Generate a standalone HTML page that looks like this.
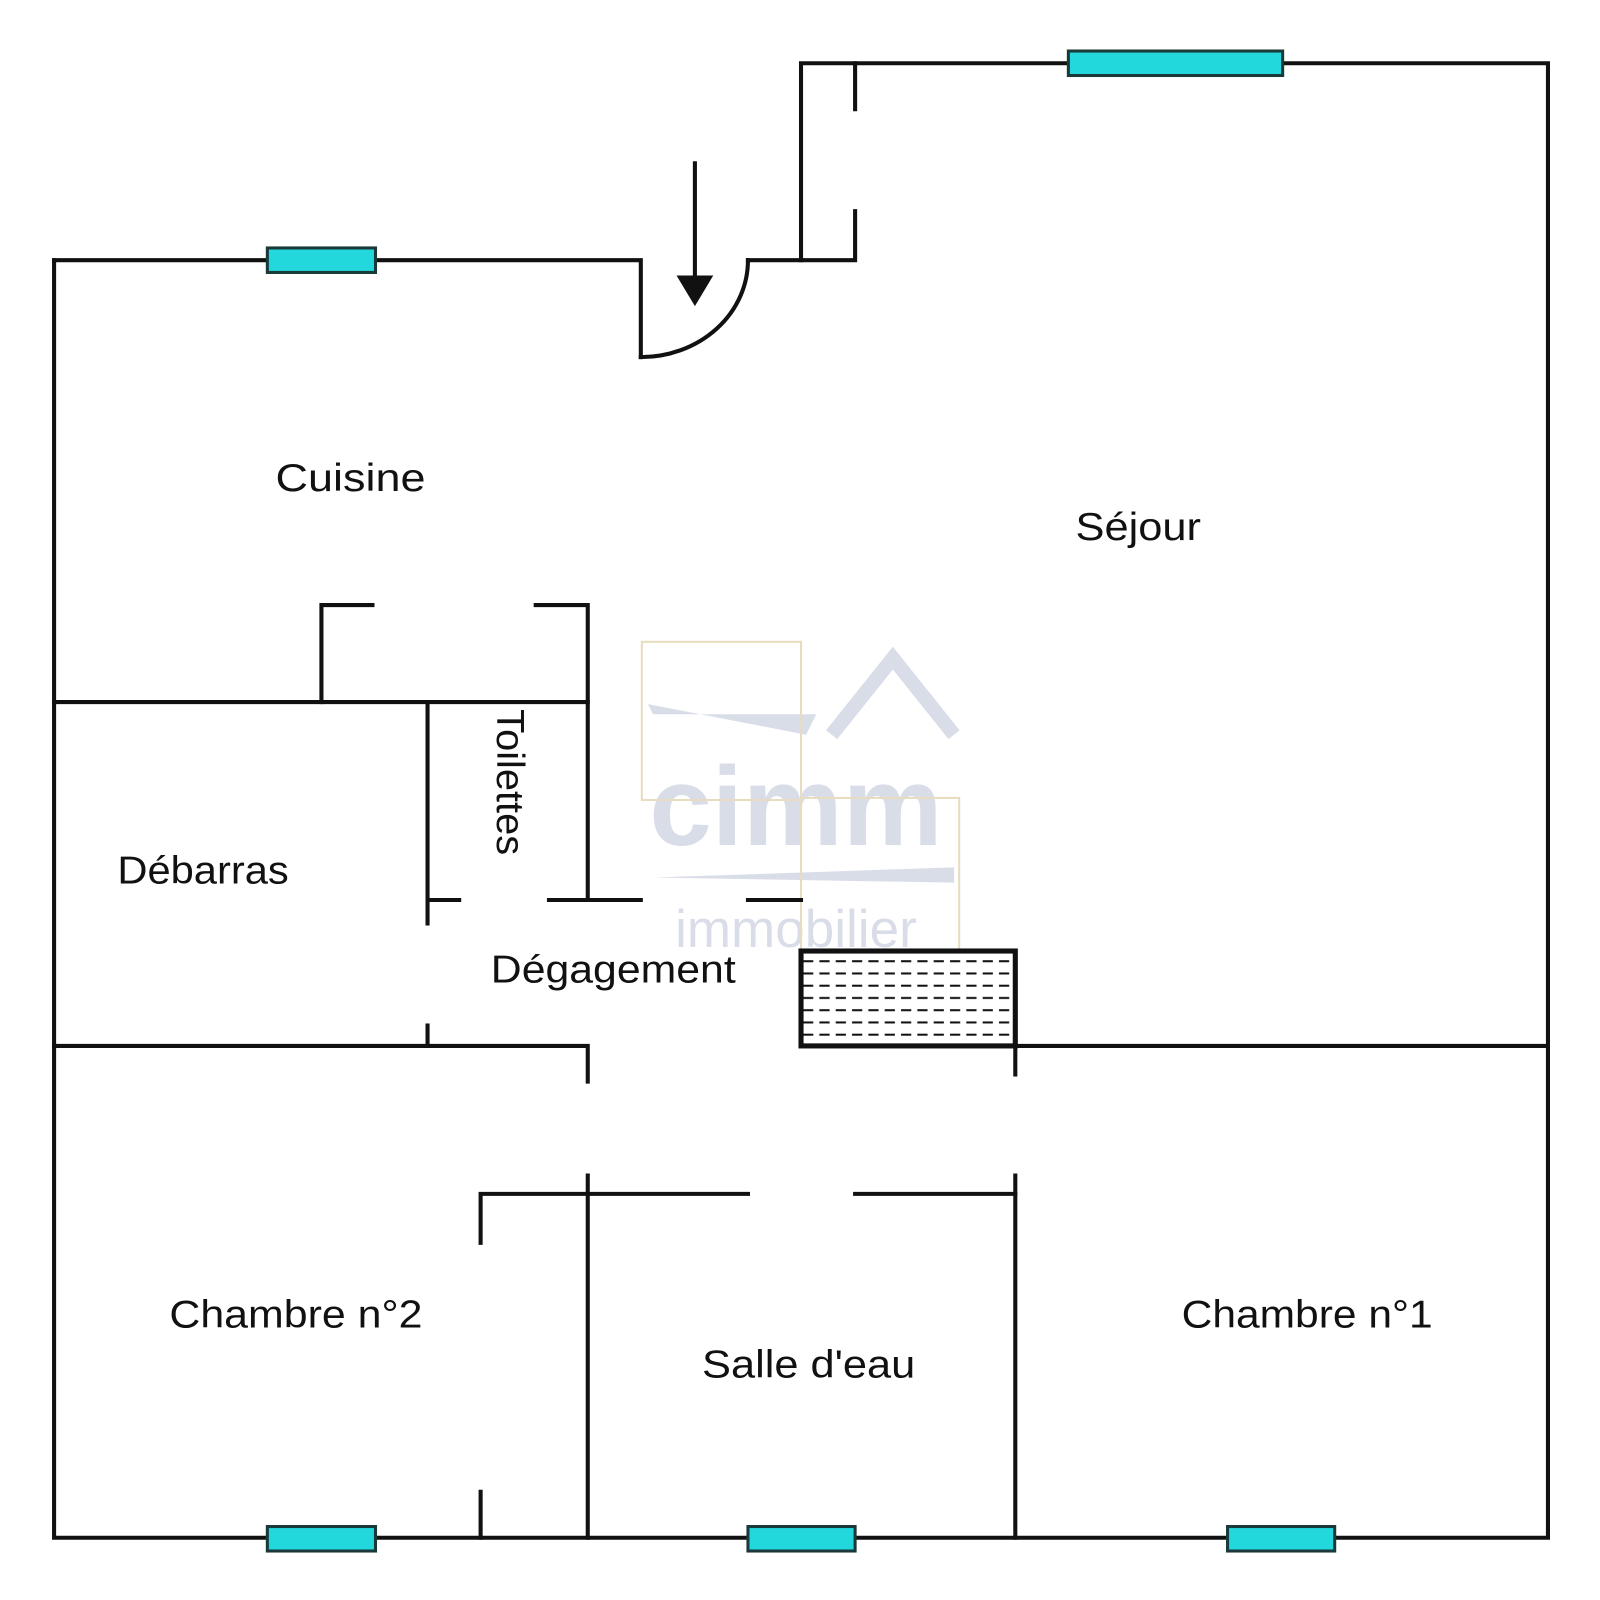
<!DOCTYPE html>
<html><head><meta charset="utf-8"><style>
html,body{margin:0;padding:0;background:#fff}
svg{display:block}
text{font-family:"Liberation Sans",sans-serif;fill:#111}
</style></head><body>
<svg width="1600" height="1600" viewBox="0 0 1568 1568" xmlns="http://www.w3.org/2000/svg">
<defs>
<pattern id="h" width="16" height="12" patternUnits="userSpaceOnUse" x="785" y="936">
<line x1="2" y1="6" x2="12" y2="6" stroke="#111" stroke-width="2"/>
</pattern>
</defs>
<rect width="1568" height="1568" fill="#fff"/>
<g opacity="0.25">
<text x="780" y="828" font-size="110" font-weight="bold" text-anchor="middle" style="fill:#6a7aa8">cimm</text>
<text x="780" y="928" font-size="52" text-anchor="middle" style="fill:#6a7aa8">immobilier</text>
<polyline points="815,720 875,645 935,720" fill="none" stroke="#6a7aa8" stroke-width="14"/>
<path d="M635,690 L790,720 L800,700 L640,700Z" fill="#6a7aa8"/>
<path d="M640,860 L935,850 L935,865Z" fill="#6a7aa8"/>
</g>
<rect x="629" y="629" width="156" height="155" fill="none" stroke="#e8dcc0" stroke-width="2"/>
<rect x="785" y="782" width="155" height="150" fill="none" stroke="#e8dcc0" stroke-width="2"/>
<g fill="none" stroke="#111" stroke-width="4" stroke-linecap="square" stroke-linejoin="miter">
<polyline points="53,255 628,255 628,350"/>
<path d="M628,350 A105,95 0 0 0 733,255"/>
<polyline points="733,255 838,255 838,207"/>
<polyline points="785,255 785,62 1517,62 1517,1507 53,1507 53,255"/>
<line x1="838" y1="62" x2="838" y2="107"/>
<line x1="681" y1="160" x2="681" y2="275"/>
<line x1="53" y1="688" x2="576" y2="688"/>
<polyline points="315,688 315,593 365,593"/>
<polyline points="525,593 576,593 576,882"/>
<line x1="419" y1="688" x2="419" y2="905"/>
<line x1="419" y1="882" x2="450" y2="882"/>
<line x1="538" y1="882" x2="628" y2="882"/>
<line x1="733" y1="882" x2="785" y2="882"/>
<polyline points="53,1025 576,1025 576,1060"/>
<line x1="419" y1="1005" x2="419" y2="1025"/>
<line x1="995" y1="1025" x2="1517" y2="1025"/>
<line x1="995" y1="1025" x2="995" y2="1053"/>
<polyline points="471,1218 471,1170 733,1170"/>
<line x1="576" y1="1152" x2="576" y2="1507"/>
<polyline points="838,1170 995,1170"/>
<line x1="995" y1="1152" x2="995" y2="1507"/>
<line x1="471" y1="1462" x2="471" y2="1507"/>
</g>
<rect x="785" y="932" width="210" height="93" fill="url(#h)" stroke="#111" stroke-width="5"/>
<polygon points="663,270 699,270 681,300" fill="#111"/>
<g fill="#22d8dc" stroke="#1a3a3a" stroke-width="3">
<rect x="262" y="243" width="106" height="24"/>
<rect x="1047" y="50" width="210" height="24"/>
<rect x="262" y="1496" width="106" height="24"/>
<rect x="733" y="1496" width="105" height="24"/>
<rect x="1203" y="1496" width="105" height="24"/>
</g>
<g font-size="38" lengthAdjust="spacingAndGlyphs">
<text x="270" y="481" textLength="147" lengthAdjust="spacingAndGlyphs">Cuisine</text>
<text x="1054" y="529" textLength="123" lengthAdjust="spacingAndGlyphs">Séjour</text>
<text x="115" y="866" textLength="168" lengthAdjust="spacingAndGlyphs">Débarras</text>
<text x="481" y="963" textLength="240" lengthAdjust="spacingAndGlyphs">Dégagement</text>
<text x="166" y="1301" textLength="248" lengthAdjust="spacingAndGlyphs">Chambre n°2</text>
<text x="688" y="1350" textLength="209" lengthAdjust="spacingAndGlyphs">Salle d'eau</text>
<text x="1158" y="1301" textLength="246" lengthAdjust="spacingAndGlyphs">Chambre n°1</text>
<text transform="translate(487,695) rotate(90)" textLength="143" lengthAdjust="spacingAndGlyphs">Toilettes</text>
</g>
</svg>
</body></html>
